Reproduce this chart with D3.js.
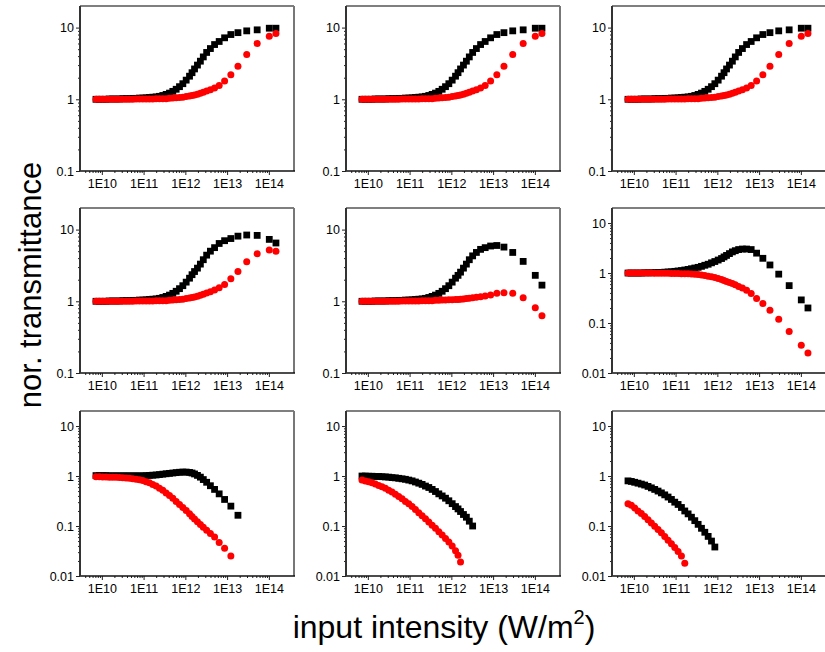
<!DOCTYPE html>
<html>
<head>
<script src="https://cdn.jsdelivr.net/npm/d3@7/dist/d3.min.js"></script>
</head>
<body style="margin: 0; background: #fff;">
<svg id="chart" width="825" height="652"></svg>
<script>

    'use strict';

    // input intensity grid, log10(W/m^2), shared by every panel (low -> high)
    var intensityExp = [9.86, 9.94, 10.02, 10.10, 10.18, 10.26, 10.34, 10.42, 10.50, 10.58,
        10.66, 10.74, 10.82, 10.90, 10.98, 11.06, 11.14, 11.22, 11.30, 11.38,
        11.46, 11.54, 11.62, 11.70, 11.78, 11.86, 11.94, 12.02, 12.10,
        12.16, 12.22, 12.29, 12.36, 12.43, 12.51, 12.60, 12.70, 12.81, 12.94,
        13.09, 13.26, 13.47, 13.72, 14.01, 14.17];

    // top row (same curves in all three panels)
    var blackA = [1.00, 1.00, 1.00, 1.00, 1.01, 1.01, 1.01, 1.01, 1.02, 1.02,
        1.02, 1.03, 1.03, 1.04, 1.04, 1.05, 1.06, 1.07, 1.08, 1.10,
        1.13, 1.17, 1.22, 1.29, 1.38, 1.50, 1.65, 1.85, 2.10,
        2.35, 2.65, 3.0, 3.4, 3.9, 4.5, 5.1, 5.8, 6.4, 7.2,
        8.0, 8.5, 9.0, 9.3, 9.8, 9.8];
    var redA = [1.0, 1.0, 1.0, 1.0, 1.0, 1.0, 1.0, 1.0, 1.0, 1.0,
        1.0, 1.0, 1.01, 1.01, 1.01, 1.01, 1.01, 1.01, 1.02, 1.02,
        1.02, 1.02, 1.03, 1.04, 1.05, 1.06, 1.07, 1.09, 1.11,
        1.13, 1.15, 1.18, 1.21, 1.25, 1.30, 1.36, 1.44, 1.56, 1.80,
        2.2, 2.9, 4.2, 6.0, 7.6, 8.3];

    // middle row
    var blackB = [1.00, 1.00, 1.00, 1.00, 1.01, 1.01, 1.01, 1.01, 1.02, 1.02,
        1.02, 1.03, 1.03, 1.04, 1.04, 1.05, 1.06, 1.07, 1.08, 1.10,
        1.13, 1.17, 1.22, 1.29, 1.38, 1.50, 1.65, 1.85, 2.10,
        2.35, 2.6, 2.9, 3.3, 3.8, 4.4, 5.0, 5.6, 6.4, 7.0,
        7.5, 8.1, 8.4, 8.3, 7.3, 6.5];
    var redB = [1.0, 1.0, 1.0, 1.0, 1.0, 1.0, 1.0, 1.0, 1.0, 1.0,
        1.0, 1.0, 1.01, 1.01, 1.01, 1.01, 1.01, 1.01, 1.02, 1.02,
        1.02, 1.02, 1.03, 1.04, 1.05, 1.06, 1.07, 1.09, 1.11,
        1.13, 1.15, 1.18, 1.21, 1.25, 1.30, 1.36, 1.44, 1.55, 1.72,
        2.07, 2.6, 3.55, 4.6, 5.2, 5.0];
    var blackC = [1.00, 1.00, 1.00, 1.00, 1.01, 1.01, 1.01, 1.01, 1.02, 1.02,
        1.02, 1.03, 1.03, 1.04, 1.04, 1.05, 1.06, 1.07, 1.08, 1.10,
        1.13, 1.17, 1.22, 1.29, 1.38, 1.50, 1.65, 1.85, 2.10,
        2.3, 2.55, 2.9, 3.3, 3.8, 4.3, 4.8, 5.3, 5.6, 5.9,
        6.0, 5.7, 4.8, 3.6, 2.3, 1.68];
    var redC = [1.0, 1.0, 1.0, 1.0, 1.0, 1.0, 1.0, 1.0, 1.0, 1.0,
        1.0, 1.0, 1.01, 1.01, 1.01, 1.01, 1.01, 1.01, 1.02, 1.02,
        1.02, 1.02, 1.03, 1.03, 1.04, 1.04, 1.05, 1.05, 1.06,
        1.06, 1.07, 1.08, 1.09, 1.10, 1.12, 1.14, 1.16, 1.19, 1.22,
        1.29, 1.32, 1.29, 1.12, 0.81, 0.63];
    var blackD = [1.0, 1.0, 1.0, 1.0, 1.0, 1.01, 1.01, 1.01, 1.02, 1.02,
        1.03, 1.04, 1.05, 1.06, 1.08, 1.10, 1.12, 1.15, 1.18, 1.22,
        1.26, 1.30, 1.36, 1.43, 1.50, 1.60, 1.70, 1.82, 1.95,
        2.1, 2.25, 2.45, 2.65, 2.8, 2.95, 3.02, 3.02, 2.95, 2.5,
        1.97, 1.45, 0.95, 0.56, 0.29, 0.2];
    var redD = [1.0, 1.0, 1.0, 1.0, 1.0, 1.0, 1.0, 1.0, 0.99, 0.99,
        0.99, 0.99, 0.99, 0.98, 0.98, 0.98, 0.97, 0.97, 0.97, 0.96,
        0.95, 0.93, 0.91, 0.89, 0.86, 0.84, 0.81, 0.78, 0.74,
        0.71, 0.68, 0.65, 0.62, 0.58, 0.54, 0.50, 0.45, 0.39, 0.31,
        0.245, 0.18, 0.119, 0.068, 0.036, 0.025];

    // bottom row (series stop early)
    var blackE = [1.02, 1.02, 1.02, 1.02, 1.01, 1.01, 1.01, 1.01, 1.01, 1.01,
        1.01, 1.01, 1.01, 1.01, 1.01, 1.02, 1.03, 1.04, 1.05, 1.07,
        1.09, 1.11, 1.13, 1.15, 1.17, 1.19, 1.20, 1.20, 1.18,
        1.15, 1.10, 1.03, 0.95, 0.85, 0.75, 0.64, 0.54, 0.44, 0.34,
        0.25, 0.164];
    var redE = [0.97, 0.97, 0.96, 0.96, 0.95, 0.95, 0.94, 0.93, 0.92, 0.91,
        0.90, 0.88, 0.86, 0.84, 0.81, 0.77, 0.73, 0.68, 0.63, 0.57,
        0.52, 0.46, 0.41, 0.36, 0.31, 0.27, 0.235, 0.205, 0.175,
        0.155, 0.138, 0.122, 0.107, 0.094, 0.082, 0.071, 0.060, 0.047, 0.036,
        0.025];
    var blackF = [1.0, 1.0, 0.99, 0.99, 0.98, 0.98, 0.97, 0.96, 0.95, 0.93,
        0.92, 0.90, 0.88, 0.86, 0.83, 0.80, 0.76, 0.72, 0.68, 0.63,
        0.59, 0.54, 0.49, 0.44, 0.40, 0.36, 0.32, 0.28, 0.245,
        0.22, 0.195, 0.17, 0.15, 0.125, 0.10];
    var redF = [0.83, 0.80, 0.77, 0.73, 0.69, 0.65, 0.61, 0.57, 0.52, 0.48,
        0.43, 0.39, 0.35, 0.31, 0.28, 0.245, 0.215, 0.185, 0.16, 0.14,
        0.12, 0.104, 0.09, 0.077, 0.066, 0.056, 0.048, 0.040, 0.032,
        0.026, 0.019];
    var blackG = [0.80, 0.78, 0.75, 0.72, 0.69, 0.66, 0.62, 0.58, 0.54, 0.50,
        0.46, 0.42, 0.38, 0.34, 0.30, 0.27, 0.235, 0.20, 0.175, 0.15,
        0.128, 0.108, 0.09, 0.075, 0.062, 0.05, 0.038];
    var redG = [0.28, 0.26, 0.23, 0.20, 0.178, 0.155, 0.133, 0.115, 0.099, 0.085,
        0.073, 0.062, 0.052, 0.044, 0.037, 0.031, 0.025, 0.018];

    var xTickExp = [10, 11, 12, 13, 14];

    var panels = [
        {black: blackA, red: redA, yMin: 0.1},
        {black: blackA, red: redA, yMin: 0.1},
        {black: blackA, red: redA, yMin: 0.1},
        {black: blackB, red: redB, yMin: 0.1},
        {black: blackC, red: redC, yMin: 0.1},
        {black: blackD, red: redD, yMin: 0.01},
        {black: blackE, red: redE, yMin: 0.01},
        {black: blackF, red: redF, yMin: 0.01},
        {black: blackG, red: redG, yMin: 0.01}
    ];

    var colLeft = [80, 346, 612];
    var rowTop = [6, 208, 411];
    var pw = 214, ph = 165;
    var font = "'Liberation Sans', Arial, sans-serif";

    var svg = d3.select("#chart");

    function minorTicks(lo, hi) {
        var out = [];
        for (var e = lo; e < hi; e++) {
            for (var m = 2; m <= 9; m++) out.push(m * Math.pow(10, e));
        }
        return out;
    }

    panels.forEach(function(p, i) {
        var left = colLeft[i % 3], top = rowTop[Math.floor(i / 3)];
        var g = svg.append("g").attr("transform", "translate(" + left + "," + top + ")");

        var x = d3.scaleLog().domain([3e9, 4e14]).range([0, pw]);
        var y = d3.scaleLog().domain([p.yMin, 20]).range([ph, 0]);

        var yMajor = p.yMin == 0.1 ? [0.1, 1, 10] : [0.01, 0.1, 1, 10];
        var lowExp = Math.round(Math.log10(p.yMin));

        // frame: top/right lighter
        g.append("line").attr("x1", 0).attr("x2", pw).attr("y1", 0).attr("y2", 0)
            .attr("stroke", "#555").attr("stroke-width", 1.5);
        g.append("line").attr("x1", pw).attr("x2", pw).attr("y1", 0).attr("y2", ph)
            .attr("stroke", "#777").attr("stroke-width", 2);

        // x axis
        var xMinor = g.append("g").attr("transform", "translate(0," + ph + ")")
            .call(d3.axisBottom(x).tickValues(minorTicks(9, 14).filter(function(v) { return v > 3e9 && v < 4e14; }))
                .tickSize(2).tickFormat(""));
        var xAxis = g.append("g").attr("transform", "translate(0," + ph + ")")
            .call(d3.axisBottom(x).tickValues(xTickExp.map(function(e) { return Math.pow(10, e); }))
                .tickSize(4).tickPadding(4)
                .tickFormat(function(d) { return "1E" + Math.round(Math.log10(d)); }));

        // y axis
        var yMinor = g.append("g")
            .call(d3.axisLeft(y).tickValues(minorTicks(lowExp, 2).filter(function(v) { return v < 20; }))
                .tickSize(2).tickFormat(""));
        var yAxis = g.append("g")
            .call(d3.axisLeft(y).tickValues(yMajor).tickSize(4).tickPadding(2).tickFormat(String));

        [xMinor, xAxis, yMinor, yAxis].forEach(function(a) {
            a.select(".domain").remove();
            a.selectAll("line").attr("stroke", "#222");
            a.selectAll("text").attr("font-family", font).attr("font-size", "12.5px").attr("fill", "#000");
        });

        g.append("line").attr("x1", 0).attr("x2", pw + 1).attr("y1", ph).attr("y2", ph)
            .attr("stroke", "#111").attr("stroke-width", 1.5);
        g.append("line").attr("x1", 0).attr("x2", 0).attr("y1", 0).attr("y2", ph)
            .attr("stroke", "#333").attr("stroke-width", 2);

        var blackPts = p.black.map(function(v, k) { return [Math.pow(10, intensityExp[k]), v]; });
        var redPts = p.red.map(function(v, k) { return [Math.pow(10, intensityExp[k]), v]; });

        g.selectAll("rect.pt").data(blackPts).enter().append("rect")
            .attr("class", "pt")
            .attr("x", function(d) { return x(d[0]) - 3.4; })
            .attr("y", function(d) { return y(d[1]) - 3.4; })
            .attr("width", 6.8).attr("height", 6.8)
            .attr("fill", "#000");

        g.selectAll("circle.pt").data(redPts).enter().append("circle")
            .attr("class", "pt")
            .attr("cx", function(d) { return x(d[0]); })
            .attr("cy", function(d) { return y(d[1]); })
            .attr("r", 3.5)
            .attr("fill", "#ff0000");
    });

    svg.append("text")
        .attr("transform", "translate(41,285) rotate(-90)")
        .attr("text-anchor", "middle")
        .attr("font-family", font).attr("font-size", "31px").attr("fill", "#000")
        .text("nor. transmittance");

    var xt = svg.append("text")
        .attr("x", 444).attr("y", 638)
        .attr("text-anchor", "middle")
        .attr("font-family", font).attr("font-size", "32px").attr("fill", "#000");
    xt.append("tspan").text("input intensity (W/m");
    xt.append("tspan").attr("font-size", "20px").attr("dy", -14).text("2");
    xt.append("tspan").attr("dy", 14).text(")");

</script>
</body>
</html>
